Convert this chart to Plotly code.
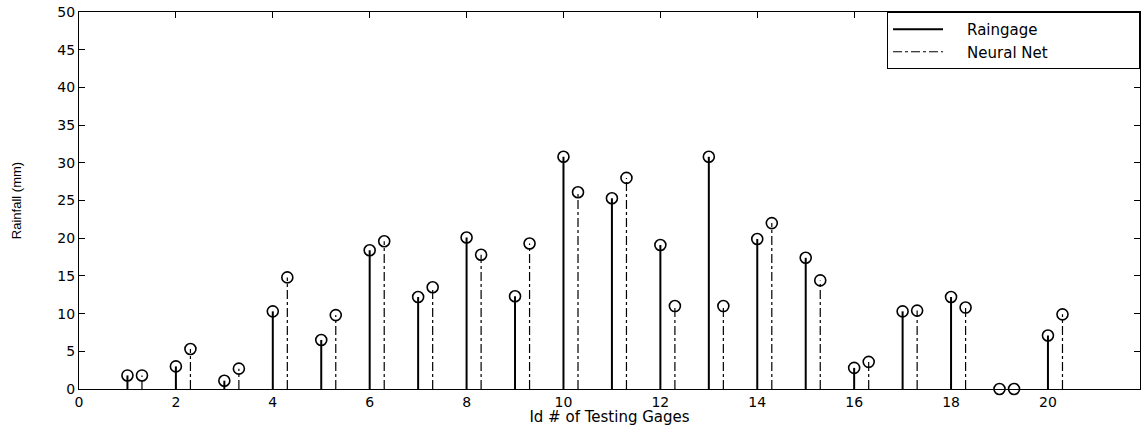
import plotly.graph_objects as go

# Testing gage ids and rainfall totals (mm)
gage_ids = list(range(1, 21))
raingage = [1.8, 3.0, 1.1, 10.3, 6.5, 18.4, 12.2, 20.1, 12.3, 30.8,
            25.3, 19.1, 30.8, 19.9, 17.4, 2.8, 10.3, 12.2, 0.0, 7.1]
neural_net = [1.8, 5.3, 2.7, 14.8, 9.8, 19.6, 13.5, 17.8, 19.3, 26.1,
              28.0, 11.0, 11.0, 22.0, 14.4, 3.6, 10.4, 10.8, 0.0, 9.9]
nn_offset = 0.3

x_ticks = list(range(0, 21, 2))
y_ticks = list(range(0, 51, 5))

# non-breaking spaces widen the legend box around the entries
PAD_L = "\u00a0" * 4
PAD_R = "\u00a0" * 18


def stems(xs, ys):
    sx, sy = [], []
    for x, y in zip(xs, ys):
        sx += [x, x, None]
        sy += [0, y, None]
    return sx, sy


rx, ry = stems(gage_ids, raingage)
nx = [g + nn_offset for g in gage_ids]
nsx, nsy = stems(nx, neural_net)

fig = go.Figure()
fig.add_trace(go.Scatter(x=rx, y=ry, mode="lines", name=PAD_L + "Raingage" + PAD_R,
                         line=dict(color="black", width=2)))
fig.add_trace(go.Scatter(x=nsx, y=nsy, mode="lines", name=PAD_L + "Neural Net" + PAD_R,
                         line=dict(color="black", width=1.2, dash="dashdot")))
fig.add_trace(go.Scatter(x=gage_ids, y=raingage, mode="markers", showlegend=False,
                         cliponaxis=False,
                         marker=dict(symbol="circle-open", size=11, color="black",
                                     line=dict(width=1.6))))
fig.add_trace(go.Scatter(x=nx, y=neural_net, mode="markers", showlegend=False,
                         cliponaxis=False,
                         marker=dict(symbol="circle-open", size=11, color="black",
                                     line=dict(width=1.6))))

axis_common = dict(showgrid=False, zeroline=False, showline=True, linecolor="black",
                   linewidth=1, mirror="ticks", ticks="inside", ticklen=6,
                   tickcolor="black",
                   tickfont=dict(family="DejaVu Sans", size=14, color="black"))

fig.update_layout(
    width=1142, height=426,
    margin=dict(l=79, r=2, t=12, b=37),
    paper_bgcolor="white", plot_bgcolor="white",
    xaxis=dict(range=[0, 21.9], tickvals=x_ticks,
               title=dict(text="Id # of Testing Gages", standoff=3,
                          font=dict(family="DejaVu Sans", size=15, color="black")),
               **axis_common),
    yaxis=dict(range=[0, 50], tickvals=y_ticks,
               title=dict(text="Rainfall (mm)", standoff=32,
                          font=dict(family="Liberation Sans", size=13, color="black")),
               **axis_common),
    legend=dict(x=1, y=1, xanchor="right", yanchor="top",
                bgcolor="white", bordercolor="black", borderwidth=1,
                font=dict(family="DejaVu Sans", size=15, color="black"),
                tracegroupgap=0, itemwidth=50),
    showlegend=True,
)

fig.write_html("out.html")
